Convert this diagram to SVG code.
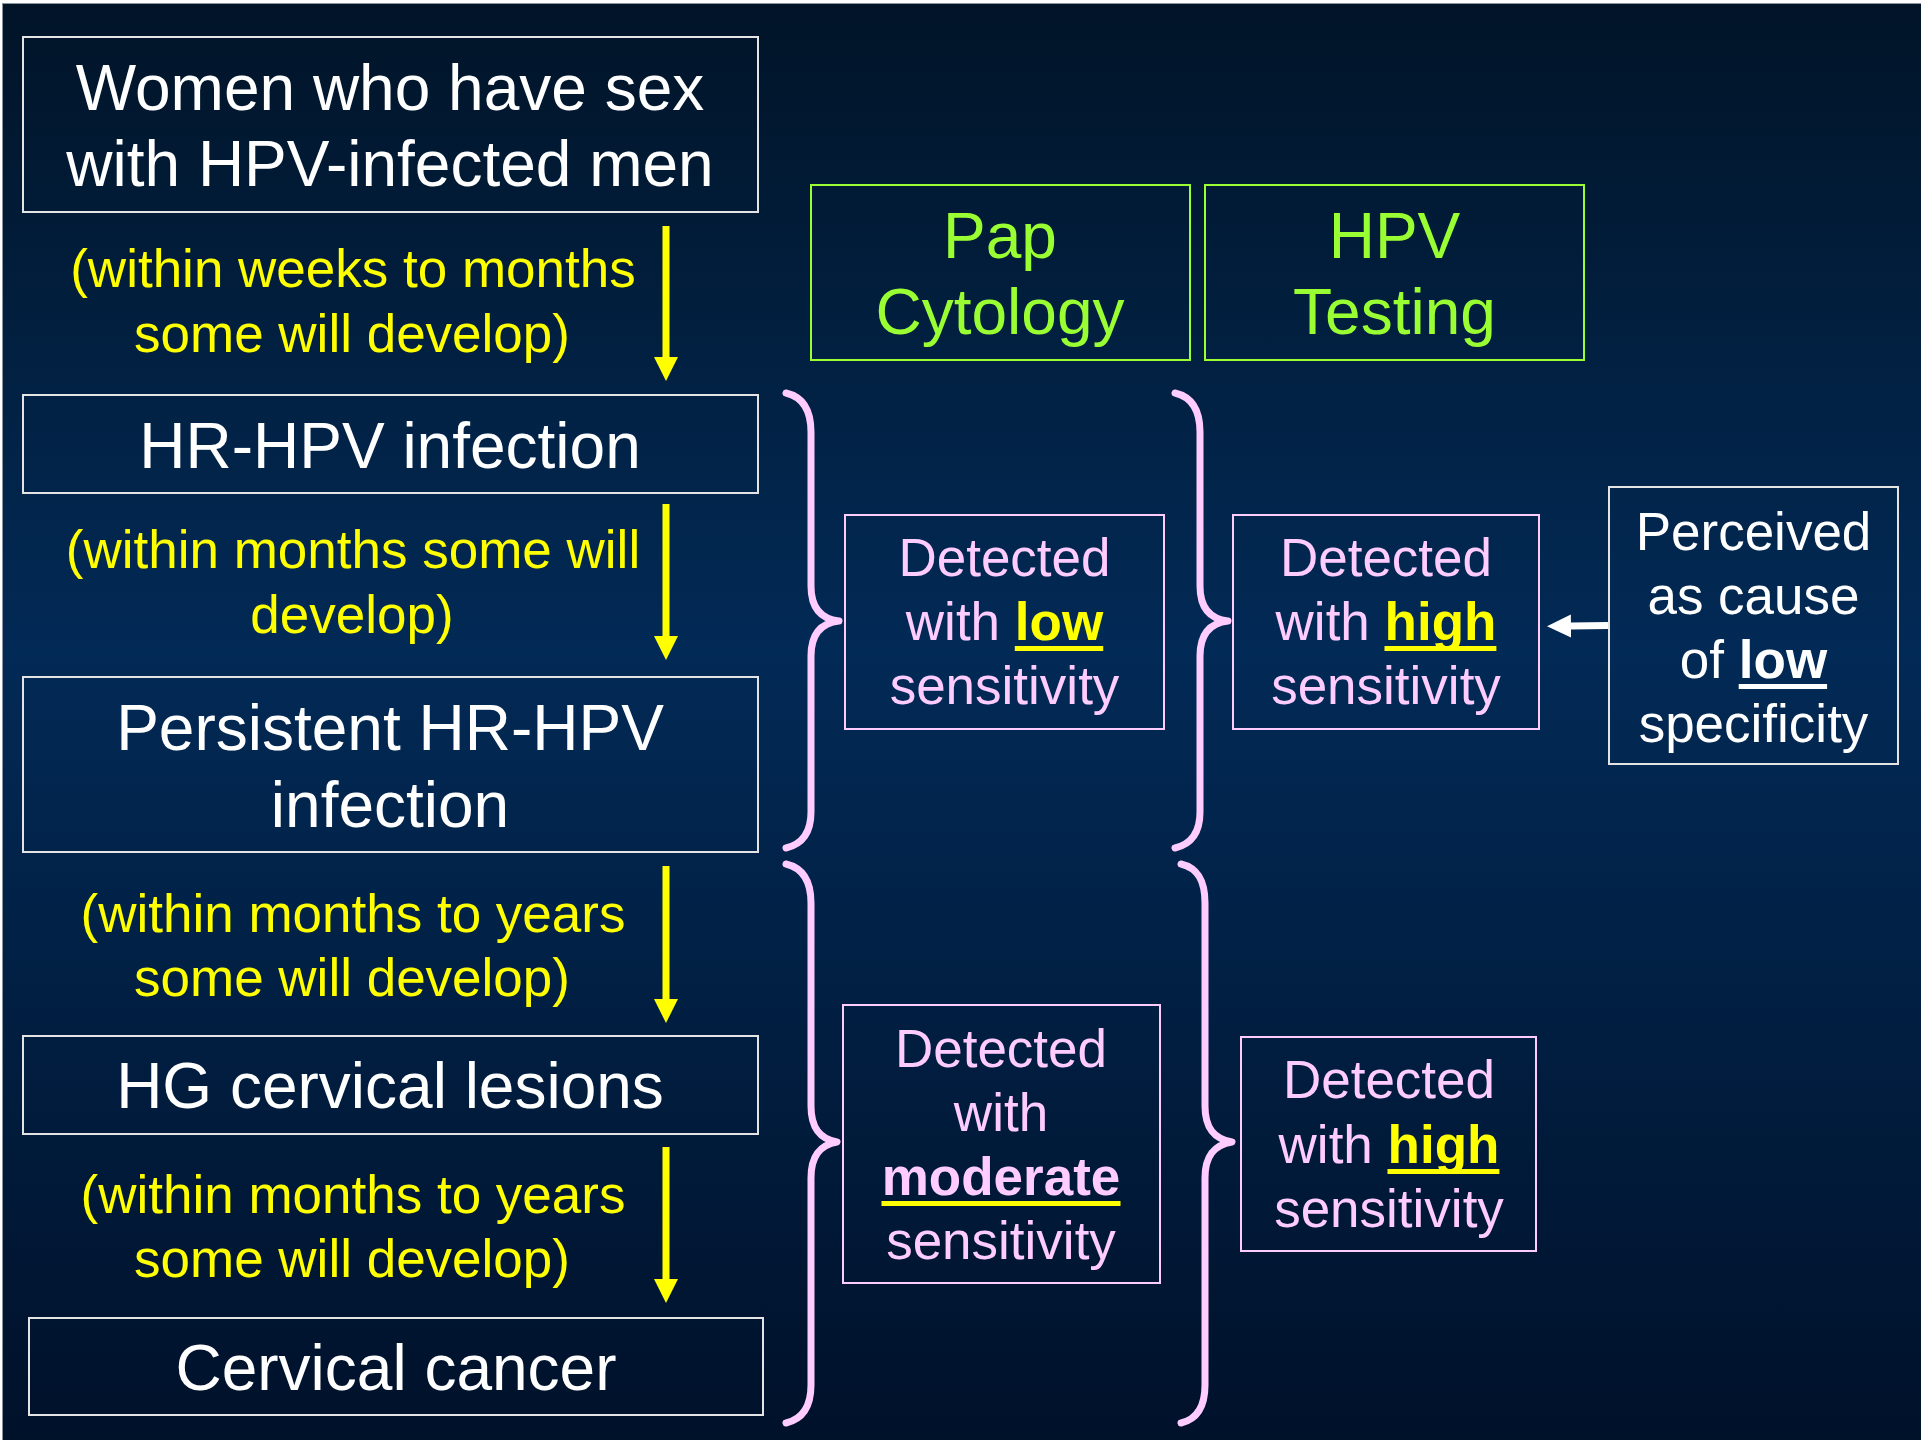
<svg xmlns="http://www.w3.org/2000/svg" width="1921" height="1440" viewBox="0 0 1921 1440">
  <defs>
    <linearGradient id="bg" x1="0" y1="0" x2="0" y2="1">
      <stop offset="0" stop-color="#011428"/>
      <stop offset="0.45" stop-color="#022a56"/>
      <stop offset="1" stop-color="#00112a"/>
    </linearGradient>
    <marker id="yhead" markerUnits="userSpaceOnUse" markerWidth="24" markerHeight="24" viewBox="0 0 23 23" refX="0" refY="11.5" orient="auto">
      <path d="M0,0 L23,11.5 L0,23 Z" fill="#ffff00"/>
    </marker>
    <marker id="whead" markerUnits="userSpaceOnUse" markerWidth="24" markerHeight="24" viewBox="0 0 23 22" refX="0" refY="11" orient="auto">
      <path d="M0,0 L23,11 L0,22 Z" fill="#ffffff"/>
    </marker>
    <style>
      text { font-family: "Liberation Sans", Arial, Helvetica, sans-serif; text-anchor: middle; }
      .stage rect { fill: none; stroke: #e4e4e4; stroke-width: 2; }
      .stage text { fill: #ffffff; font-size: 64px; }
      .note text { fill: #ffff00; font-size: 53px; }
      .method rect { fill: none; stroke: #99ff33; stroke-width: 2; }
      .method text { fill: #99ff33; font-size: 64px; }
      .finding rect.frame { fill: none; stroke: #ffccff; stroke-width: 2; }
      .finding text { fill: #ffccff; font-size: 53px; }
      .hl { fill: #ffff00; font-weight: bold; }
      .uline { fill: #ffff00; stroke: none; }
      .brace { fill: none; stroke: #ffccff; stroke-width: 7; stroke-linecap: round; stroke-linejoin: round; }
      .yarrow { stroke: #ffff00; stroke-width: 7; marker-end: url(#yhead); }
      .warrow { stroke: #ffffff; stroke-width: 7; marker-end: url(#whead); }
    </style>
  </defs>

  <!-- page and slide background -->
  <rect x="0" y="0" width="1921" height="1440" fill="#ffffff"/>
  <rect x="2" y="3" width="1919" height="1437" fill="#8a93a0"/>
  <rect x="3" y="4" width="1918" height="1436" fill="url(#bg)"/>

  <!-- natural history stages -->
  <g id="women" class="stage">
    <rect x="23" y="37" width="735" height="175"/>
    <text x="390" y="110">Women who have sex</text>
    <text x="390" y="186">with HPV-infected men</text>
  </g>
  <g id="hr-hpv" class="stage">
    <rect x="23" y="395" width="735" height="98"/>
    <text x="390" y="468">HR-HPV infection</text>
  </g>
  <g id="persistent" class="stage">
    <rect x="23" y="677" width="735" height="175"/>
    <text x="390" y="750">Persistent HR-HPV</text>
    <text x="390" y="827">infection</text>
  </g>
  <g id="hg-lesions" class="stage">
    <rect x="23" y="1036" width="735" height="98"/>
    <text x="390" y="1108">HG cervical lesions</text>
  </g>
  <g id="cancer" class="stage">
    <rect x="29" y="1318" width="734" height="97"/>
    <text x="396" y="1390">Cervical cancer</text>
  </g>

  <!-- transition notes -->
  <g id="note-1" class="note">
    <text x="353" y="287">(within weeks to months</text>
    <text x="352" y="352">some will develop)</text>
  </g>
  <g id="note-2" class="note">
    <text x="353" y="568">(within months some will</text>
    <text x="352" y="633">develop)</text>
  </g>
  <g id="note-3" class="note">
    <text x="353" y="932">(within months to years</text>
    <text x="352" y="996">some will develop)</text>
  </g>
  <g id="note-4" class="note">
    <text x="353" y="1213">(within months to years</text>
    <text x="352" y="1277">some will develop)</text>
  </g>

  <!-- screening methods -->
  <g id="pap" class="method">
    <rect x="811" y="185" width="379" height="175"/>
    <text x="1000" y="258">Pap</text>
    <text x="1000" y="334">Cytology</text>
  </g>
  <g id="hpv-test" class="method">
    <rect x="1205" y="185" width="379" height="175"/>
    <text x="1394.5" y="258">HPV</text>
    <text x="1394.5" y="334">Testing</text>
  </g>

  <!-- detection findings -->
  <g id="pap-early" class="finding">
    <rect class="frame" x="845" y="515" width="319" height="214"/>
    <text x="1004.5" y="576">Detected</text>
    <text x="1004.5" y="640">with <tspan class="hl">low</tspan></text>
    <rect class="uline" x="1014.8" y="646" width="88.4" height="5"/>
    <text x="1004.5" y="704">sensitivity</text>
  </g>
  <g id="hpv-early" class="finding">
    <rect class="frame" x="1233" y="515" width="306" height="214"/>
    <text x="1386" y="576">Detected</text>
    <text x="1386" y="640">with <tspan class="hl">high</tspan></text>
    <rect class="uline" x="1384.5" y="646" width="111.9" height="5"/>
    <text x="1386" y="704">sensitivity</text>
  </g>
  <g id="pap-late" class="finding">
    <rect class="frame" x="843" y="1005" width="317" height="278"/>
    <text x="1001" y="1067">Detected</text>
    <text x="1001" y="1131">with</text>
    <text x="1001" y="1195" class="hl">moderate</text>
    <rect class="uline" x="881.5" y="1201" width="239" height="5"/>
    <text x="1001" y="1259">sensitivity</text>
  </g>
  <g id="hpv-late" class="finding">
    <rect class="frame" x="1241" y="1037" width="295" height="214"/>
    <text x="1389" y="1098">Detected</text>
    <text x="1389" y="1163">with <tspan class="hl">high</tspan></text>
    <rect class="uline" x="1387.5" y="1169" width="111.9" height="5"/>
    <text x="1389" y="1227">sensitivity</text>
  </g>

  <!-- specificity remark -->
  <g id="specificity">
    <rect x="1609" y="487" width="289" height="277" fill="none" stroke="#e4e4e4" stroke-width="2"/>
    <g fill="#ffffff" font-size="53px">
      <text x="1753.5" y="550">Perceived</text>
      <text x="1753.5" y="614">as cause</text>
      <text x="1753.5" y="678">of <tspan font-weight="bold">low</tspan></text>
      <rect x="1738.7" y="684" width="88.4" height="5"/>
      <text x="1753.5" y="742">specificity</text>
    </g>
  </g>

  <!-- braces grouping the stages per method -->
  <g id="braces">
    <path class="brace" d="M786,393 C803,397 811,410 811,432 L811,586 C811,608 821,619 839,621 C821,623 811,634 811,656 L811,812 C811,832 803,844 786,848"/>
    <path class="brace" d="M1175,393 C1192,397 1200,410 1200,432 L1200,586 C1200,608 1210,619 1228,621 C1210,623 1200,634 1200,656 L1200,812 C1200,832 1192,844 1175,848"/>
    <path class="brace" d="M786,864 C803,868 811,881 811,903 L811,1106 C811,1128 820,1139 837,1142 C820,1145 811,1156 811,1178 L811,1385 C811,1406 803,1419 786,1423"/>
    <path class="brace" d="M1181,864 C1198,868 1205,881 1205,903 L1205,1106 C1205,1128 1214,1139 1232,1142 C1214,1145 1205,1156 1205,1178 L1205,1385 C1205,1406 1198,1419 1181,1423"/>
  </g>

  <!-- connectors -->
  <g id="connectors">
    <line class="yarrow" x1="666" y1="226" x2="666" y2="357"/>
    <line class="yarrow" x1="666" y1="504" x2="666" y2="636"/>
    <line class="yarrow" x1="666" y1="866" x2="666" y2="999"/>
    <line class="yarrow" x1="666" y1="1147" x2="666" y2="1279"/>
    <line class="warrow" x1="1608" y1="625.5" x2="1571" y2="626"/>
  </g>
</svg>
